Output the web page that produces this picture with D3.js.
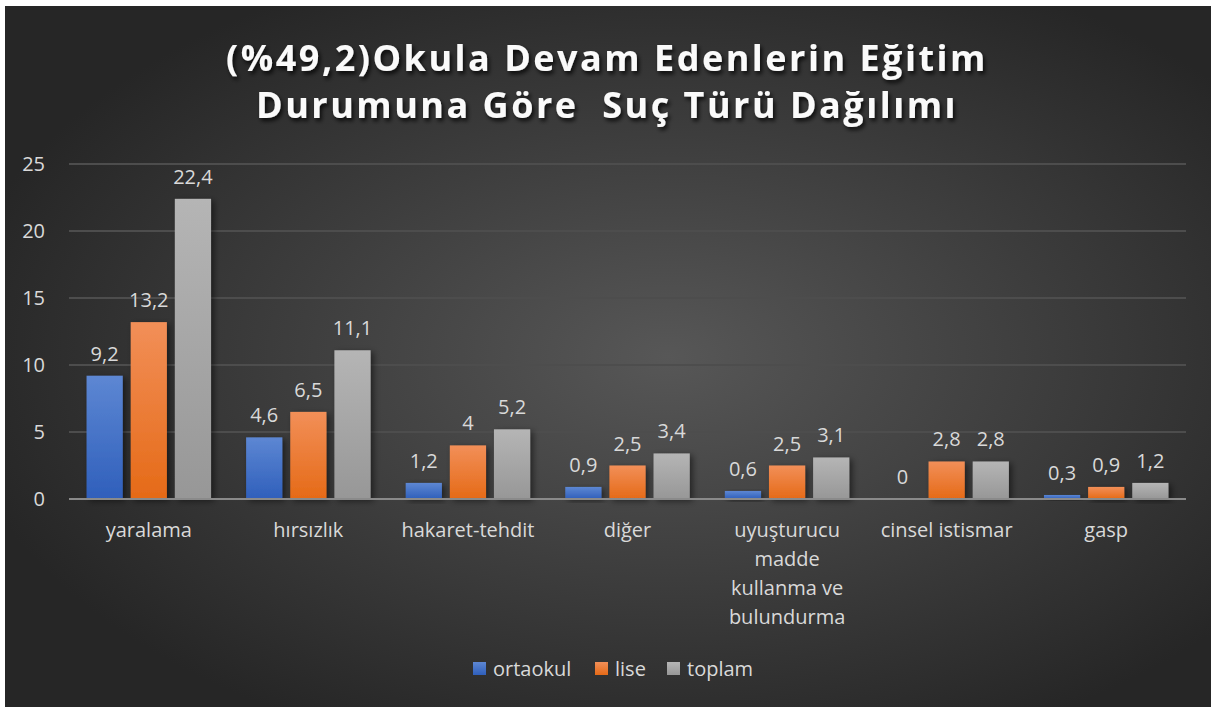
<!DOCTYPE html>
<meta charset="utf-8">
<script src="https://cdnjs.cloudflare.com/ajax/libs/d3/7.3.0/d3.min.js"></script>
<style>
  body { margin: 0; background: #fff; }
  text { font-family: "Open Sans", Lato, sans-serif; }
</style>
<div id="my_dataviz"></div>
<script>

    // categories and series
    const categories = ["yaralama", "hırsızlık", "hakaret-tehdit", "diğer",
        "uyuşturucu madde kullanma ve bulundurma", "cinsel istismar", "gasp"]
    const categoryLines = [["yaralama"], ["hırsızlık"], ["hakaret-tehdit"], ["diğer"],
        ["uyuşturucu", "madde", "kullanma ve", "bulundurma"], ["cinsel istismar"], ["gasp"]]
    const seriesNames = ["ortaokul", "lise", "toplam"]
    const ortaokul = [9.2, 4.6, 1.2, 0.9, 0.6, 0, 0.3]
    const lise = [13.2, 6.5, 4, 2.5, 2.5, 2.8, 0.9]
    const toplam = [22.4, 11.1, 5.2, 3.4, 3.1, 2.8, 1.2]
    const yTicks = [0, 5, 10, 15, 20, 25]
    const titleLines = ["(%49,2)Okula Devam Edenlerin Eğitim", "Durumuna Göre  Suç Türü Dağılımı"]

    const colors = {
        ortaokul: ["#5d87d3", "#2f5fbb"],
        lise: ["#f28f58", "#e56a17"],
        toplam: ["#b5b5b5", "#979797"]
    }

    var W = 1211, H = 707
    var margin = { top: 164, right: 25, bottom: 208, left: 69 },
        width = 1186 - margin.left,
        height = 499 - margin.top;

    var svg = d3.select("#my_dataviz")
        .append("svg")
        .attr("width", W)
        .attr("height", H)

    var defs = svg.append("defs")

    // background
    let bg = defs.append("radialGradient")
        .attr("id", "bg")
        .attr("cx", "55%").attr("cy", "50%").attr("r", "60%")
    bg.append("stop").attr("offset", 0).attr("stop-color", "#575757")
    bg.append("stop").attr("offset", 1).attr("stop-color", "#262626")

    seriesNames.forEach(function (s) {
        let g = defs.append("linearGradient")
            .attr("id", "grad-" + s)
            .attr("x1", "0%").attr("y1", "0%")
            .attr("x2", "0%").attr("y2", "100%")
        g.append("stop").attr("offset", 0).attr("stop-color", colors[s][0])
        g.append("stop").attr("offset", 1).attr("stop-color", colors[s][1])
    })

    let shadow = defs.append("filter").attr("id", "shadow")
        .attr("x", "-20%").attr("y", "-20%").attr("width", "150%").attr("height", "150%")
    shadow.append("feDropShadow")
        .attr("dx", 3).attr("dy", 2).attr("stdDeviation", 3)
        .attr("flood-color", "#000").attr("flood-opacity", 0.5)

    let tshadow = defs.append("filter").attr("id", "tshadow")
    tshadow.append("feDropShadow")
        .attr("dx", 2).attr("dy", 3).attr("stdDeviation", 2)
        .attr("flood-color", "#000").attr("flood-opacity", 0.8)

    svg.append("rect")
        .attr("x", 5).attr("y", 6)
        .attr("width", W - 5).attr("height", H - 6)
        .attr("fill", "url(#bg)")

    // title
    svg.append("g").selectAll("text")
        .data(titleLines)
        .join("text")
        .attr("x", 607)
        .attr("y", function (d, i) { return 71 + i * 47; })
        .attr("text-anchor", "middle")
        .attr("fill", "#fafafa")
        .attr("font-size", 36)
        .attr("font-weight", "bold")
        .attr("letter-spacing", 2.5)
        .style("white-space", "pre")
        .attr("filter", "url(#tshadow)")
        .text(function (d) { return d; });

    var chart = svg.append("g")
        .attr("transform", "translate(" + margin.left + "," + margin.top + ")");

    var x = d3.scaleBand()
        .domain(categories)
        .range([0, width])
        .paddingInner(0.22)
        .paddingOuter(0.11);

    var xs = d3.scaleBand()
        .domain(seriesNames)
        .range([0, x.bandwidth()])
        .paddingInner(0.18);

    var y = d3.scaleLinear()
        .domain([0, 25])
        .range([height, 0]);

    // gridlines
    chart.append("g")
        .selectAll("line")
        .data(yTicks.slice(1))
        .join("line")
        .attr("x1", 0).attr("x2", width)
        .attr("y1", function (d) { return y(d); })
        .attr("y2", function (d) { return y(d); })
        .attr("stroke", "#4d4d4d")
        .attr("stroke-width", 2);

    // y axis labels
    var yAxis = chart.append("g")
        .call(d3.axisLeft(y).tickValues(yTicks).tickSize(0).tickPadding(24));
    yAxis.select(".domain").remove();
    yAxis.selectAll("text")
        .attr("fill", "#d9d9d9")
        .attr("font-size", 20)
        .style("font-family", "'Open Sans', sans-serif");

    const data = categories.map(function (c, i) {
        return { cat: c, values: [
            { s: "ortaokul", v: ortaokul[i] },
            { s: "lise", v: lise[i] },
            { s: "toplam", v: toplam[i] }
        ] };
    })

    var groups = chart.append("g")
        .selectAll("g")
        .data(data)
        .join("g")
        .attr("transform", function (d) { return "translate(" + x(d.cat) + ",0)"; });

    groups.selectAll("rect")
        .data(function (d) { return d.values; })
        .join("rect")
        .attr("x", function (d) { return xs(d.s); })
        .attr("y", function (d) { return y(d.v); })
        .attr("width", xs.bandwidth())
        .attr("height", function (d) { return height - y(d.v); })
        .attr("fill", function (d) { return "url(#grad-" + d.s + ")"; })
        .attr("filter", "url(#shadow)");

    groups.selectAll("text.val")
        .data(function (d) { return d.values; })
        .join("text")
        .attr("class", "val")
        .attr("x", function (d) { return xs(d.s) + xs.bandwidth() / 2; })
        .attr("y", function (d) { return y(d.v) - 15; })
        .attr("text-anchor", "middle")
        .attr("fill", "#d9d9d9")
        .attr("font-size", 20)
        .text(function (d) { return String(d.v).replace(".", ","); });

    // x axis line
    chart.append("line")
        .attr("x1", 0).attr("x2", width)
        .attr("y1", height).attr("y2", height)
        .attr("stroke", "#8a8a8a")
        .attr("stroke-width", 2);

    // category labels
    chart.append("g")
        .selectAll("text")
        .data(categories)
        .join("text")
        .attr("text-anchor", "middle")
        .attr("fill", "#d9d9d9")
        .attr("font-size", 20)
        .each(function (d, i) {
            d3.select(this).selectAll("tspan")
                .data(categoryLines[i])
                .join("tspan")
                .attr("x", x(d) + x.bandwidth() / 2)
                .attr("y", function (t, j) { return height + 38 + j * 29; })
                .text(function (t) { return t; });
        });

    // legend
    var legendX = [473, 595, 667]
    var legend = svg.append("g")
        .selectAll("g")
        .data(seriesNames)
        .join("g")
        .attr("transform", function (d, i) { return "translate(" + legendX[i] + ",662)"; });
    legend.append("rect")
        .attr("width", 13).attr("height", 13)
        .attr("fill", function (d) { return "url(#grad-" + d + ")"; });
    legend.append("text")
        .attr("x", 20).attr("y", 14)
        .attr("fill", "#d9d9d9")
        .attr("font-size", 20)
        .text(function (d) { return d; });

</script>
